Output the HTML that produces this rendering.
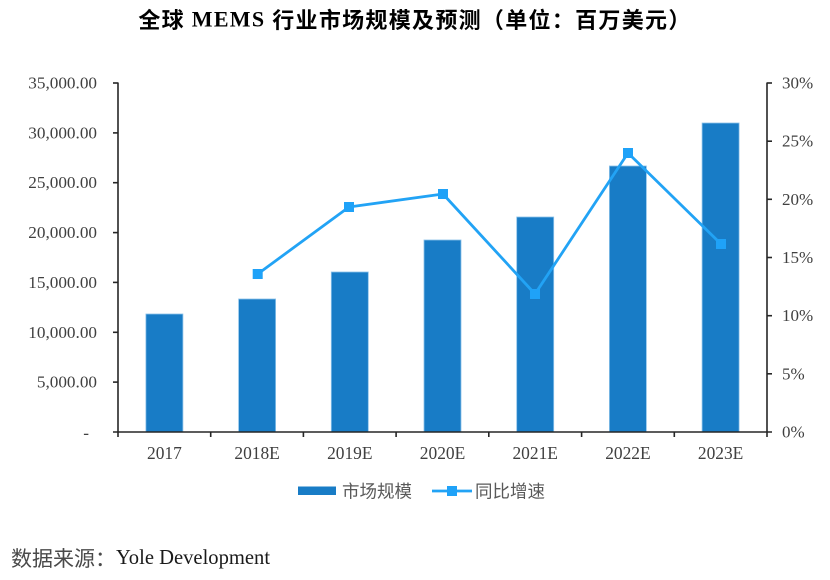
<!DOCTYPE html>
<html>
<head>
<meta charset="utf-8">
<style>
  html,body{margin:0;padding:0;background:#fff;}
  body{width:830px;height:580px;overflow:hidden;}
  svg{display:block;}
</style>
</head>
<body>
<svg width="830" height="580" viewBox="0 0 830 580" xmlns="http://www.w3.org/2000/svg">
  <!-- Title -->
  <text x="415" y="19" text-anchor="middle" dominant-baseline="central" font-family="'Liberation Serif','Noto Sans CJK SC',serif" font-weight="bold" font-size="22" letter-spacing="1.3" fill="#000"><tspan font-family="'Noto Sans CJK SC',sans-serif">全球</tspan> MEMS <tspan font-family="'Noto Sans CJK SC',sans-serif">行业市场规模及预测（单位：百万美元）</tspan></text>

  <!-- Bars -->
  <g fill="#187cc6" stroke="#8cc2ea" stroke-width="0.8">
    <rect x="145.9" y="314" width="37" height="118"/>
    <rect x="238.6" y="299" width="37" height="133"/>
    <rect x="331.3" y="272" width="37" height="160"/>
    <rect x="424.0" y="240" width="37" height="192"/>
    <rect x="516.7" y="217" width="37" height="215"/>
    <rect x="609.4" y="166" width="37" height="266"/>
    <rect x="702.1" y="123" width="37" height="309"/>
  </g>

  <!-- Axes -->
  <g stroke="#262626" stroke-width="1.6" fill="none">
    <line x1="118" y1="82.5" x2="118" y2="432"/>
    <line x1="767" y1="82.5" x2="767" y2="432"/>
    <line x1="113" y1="432" x2="772" y2="432"/>
    <line x1="113" y1="83" x2="118" y2="83"/>
    <line x1="113" y1="132.9" x2="118" y2="132.9"/>
    <line x1="113" y1="182.7" x2="118" y2="182.7"/>
    <line x1="113" y1="232.6" x2="118" y2="232.6"/>
    <line x1="113" y1="282.4" x2="118" y2="282.4"/>
    <line x1="113" y1="332.3" x2="118" y2="332.3"/>
    <line x1="113" y1="382.1" x2="118" y2="382.1"/>
    <line x1="767" y1="83" x2="772" y2="83"/>
    <line x1="767" y1="141.2" x2="772" y2="141.2"/>
    <line x1="767" y1="199.3" x2="772" y2="199.3"/>
    <line x1="767" y1="257.5" x2="772" y2="257.5"/>
    <line x1="767" y1="315.7" x2="772" y2="315.7"/>
    <line x1="767" y1="373.8" x2="772" y2="373.8"/>
    <line x1="118" y1="432" x2="118" y2="437"/>
    <line x1="210.7" y1="432" x2="210.7" y2="437"/>
    <line x1="303.4" y1="432" x2="303.4" y2="437"/>
    <line x1="396.1" y1="432" x2="396.1" y2="437"/>
    <line x1="488.8" y1="432" x2="488.8" y2="437"/>
    <line x1="581.6" y1="432" x2="581.6" y2="437"/>
    <line x1="674.3" y1="432" x2="674.3" y2="437"/>
    <line x1="767" y1="432" x2="767" y2="437"/>
  </g>

  <!-- Left labels -->
  <g font-family="'Liberation Serif',serif" font-size="17.2" fill="#404040" text-anchor="end" dominant-baseline="central">
    <text x="97" y="83">35,000.00</text>
    <text x="97" y="132.9">30,000.00</text>
    <text x="97" y="182.7">25,000.00</text>
    <text x="97" y="232.6">20,000.00</text>
    <text x="97" y="282.4">15,000.00</text>
    <text x="97" y="332.3">10,000.00</text>
    <text x="97" y="382.1">5,000.00</text>
    <text x="89" y="433">-</text>
  </g>

  <!-- Right labels -->
  <g font-family="'Liberation Serif',serif" font-size="17" fill="#404040" text-anchor="start" dominant-baseline="central">
    <text x="782" y="83">30%</text>
    <text x="782" y="141.2">25%</text>
    <text x="782" y="199.3">20%</text>
    <text x="782" y="257.5">15%</text>
    <text x="782" y="315.7">10%</text>
    <text x="782" y="373.8">5%</text>
    <text x="782" y="432">0%</text>
  </g>

  <!-- X labels -->
  <g font-family="'Liberation Serif',serif" font-size="17.4" fill="#404040" text-anchor="middle" dominant-baseline="central">
    <text x="164.4" y="453">2017</text>
    <text x="257.1" y="453">2018E</text>
    <text x="349.8" y="453">2019E</text>
    <text x="442.5" y="453">2020E</text>
    <text x="535.2" y="453">2021E</text>
    <text x="627.9" y="453">2022E</text>
    <text x="720.6" y="453">2023E</text>
  </g>

  <!-- Line series -->
  <polyline points="257.7,274 349,207 443,194 535,294 628,153 721,244" fill="none" stroke="#22a3f5" stroke-width="2.8" stroke-linejoin="round"/>
  <g fill="#1fa2f8">
    <rect x="252.7" y="269" width="10" height="10"/>
    <rect x="344" y="202" width="10" height="10"/>
    <rect x="438" y="189" width="10" height="10"/>
    <rect x="530" y="289" width="10" height="10"/>
    <rect x="623" y="148" width="10" height="10"/>
    <rect x="716" y="239" width="10" height="10"/>
  </g>

  <!-- Legend -->
  <rect x="298" y="486.5" width="38" height="8.5" fill="#187cc6"/>
  <text x="342" y="491" dominant-baseline="central" font-family="'Noto Sans CJK SC',sans-serif" font-size="17.5" fill="#595959">市场规模</text>
  <line x1="432" y1="491" x2="472" y2="491" stroke="#22a3f5" stroke-width="2.8"/>
  <rect x="447" y="486" width="10" height="10" fill="#1fa2f8"/>
  <text x="475" y="491" dominant-baseline="central" font-family="'Noto Sans CJK SC',sans-serif" font-size="17.5" fill="#595959">同比增速</text>

  <!-- Source -->
  <text x="11" y="558" dominant-baseline="central" font-size="21" fill="#1a1a1a"><tspan font-family="'Noto Sans CJK SC',sans-serif" fill="#4a4a4a">数据来源：</tspan><tspan font-family="'Liberation Serif',serif" font-size="20.6">Yole Development</tspan></text>
</svg>
</body>
</html>
